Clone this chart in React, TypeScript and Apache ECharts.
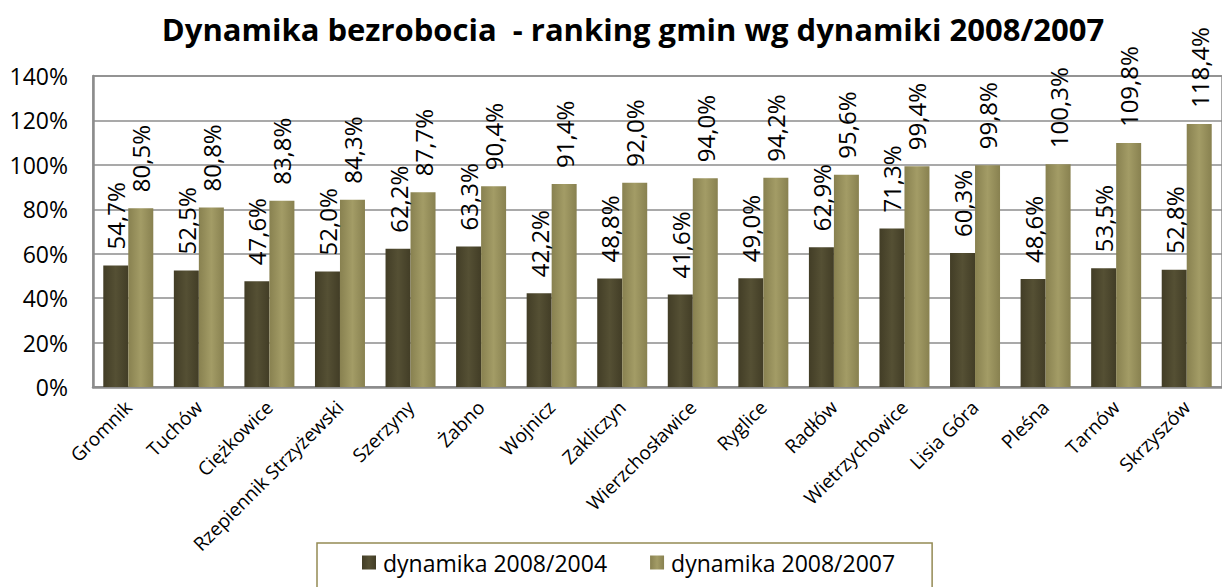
import React, { useEffect, useRef } from "react";
import * as echarts from "echarts";

const categories = [
  "Gromnik", "Tuchów", "Ciężkowice", "Rzepiennik Strzyżewski", "Szerzyny", "Żabno",
  "Wojnicz", "Zakliczyn", "Wierzchosławice", "Ryglice", "Radłów", "Wietrzychowice",
  "Lisia Góra", "Pleśna", "Tarnów", "Skrzyszów",
];
const dyn2004 = [54.7, 52.5, 47.6, 52.0, 62.2, 63.3, 42.2, 48.8, 41.6, 49.0, 62.9, 71.3, 60.3, 48.6, 53.5, 52.8];
const dyn2007 = [80.5, 80.8, 83.8, 84.3, 87.7, 90.4, 91.4, 92.0, 94.0, 94.2, 95.6, 99.4, 99.8, 100.3, 109.8, 118.4];
const seriesNames = ["dynamika 2008/2004", "dynamika 2008/2007"];
const titleText = "Dynamika bezrobocia  - ranking gmin wg dynamiki 2008/2007";

const FONT = "'Open Sans', 'Noto Sans', sans-serif";

const fmt = (v: number) => v.toFixed(1).replace(".", ",") + "%";

const grad = (edge: string, mid: string) =>
  new echarts.graphic.LinearGradient(0, 0, 1, 0, [
    { offset: 0, color: edge },
    { offset: 0.5, color: mid },
    { offset: 1, color: edge },
  ]);

export default function App() {
  const ref = useRef<HTMLDivElement>(null);
  useEffect(() => {
    document.body.style.margin = "0";
    const chart = echarts.init(ref.current!, null, { renderer: "svg" });
    const label = {
      show: true,
      position: "top",
      rotate: 90,
      align: "left",
      verticalAlign: "middle",
      distance: 16,
      color: "#000",
      fontFamily: FONT,
      fontSize: 24,
      formatter: (p: any) => fmt(p.value),
    };
    chart.setOption({
      animation: false,
      backgroundColor: "#fff",
      title: {
        text: titleText,
        left: 628,
        top: 8,
        textAlign: "center",
        textStyle: { fontFamily: FONT, fontWeight: "bold", fontSize: 31, color: "#000" },
      },
      legend: {
        left: 317,
        top: 543,
        itemWidth: 14,
        itemHeight: 14,
        itemGap: 43,
        borderColor: "#948a54",
        borderWidth: 1.5,
        padding: [8, 37, 40, 45],
        icon: "rect",
        textStyle: { fontFamily: FONT, fontSize: 23, color: "#000", padding: [0, 0, 0, 2] },
        data: seriesNames,
      },
      grid: { left: 93, width: 1141, top: 76, height: 311, show: true, borderColor: "#8c8c8c", borderWidth: 1.5 },
      xAxis: {
        type: "category",
        data: categories,
        axisLine: { lineStyle: { color: "#8c8c8c", width: 2.5 } },
        axisTick: { show: false },
        axisLabel: {
          rotate: 45,
          interval: 0,
          fontFamily: FONT,
          fontSize: 19,
          color: "#000",
          margin: 17,
        },
      },
      yAxis: {
        type: "value",
        min: 0,
        max: 140,
        interval: 20,
        axisLine: { show: true, lineStyle: { color: "#8c8c8c", width: 2.5 } },
        axisTick: { show: false },
        splitLine: { lineStyle: { color: "#8c8c8c", width: 1.5 } },
        axisLabel: {
          formatter: "{value}%",
          fontFamily: FONT,
          fontSize: 23,
          color: "#000",
          margin: 25,
        },
      },
      series: [
        {
          name: seriesNames[0],
          type: "bar",
          data: dyn2004,
          barWidth: 25,
          barGap: "0%",
          itemStyle: { color: grad("#423d26", "#555034") },
          label,
        },
        {
          name: seriesNames[1],
          type: "bar",
          data: dyn2007,
          barWidth: 25,
          itemStyle: { color: grad("#888150", "#a39c66") },
          label,
        },
      ],
    });
    return () => chart.dispose();
  }, []);
  return <div ref={ref} style={{ width: 1222, height: 587 }} />;
}
